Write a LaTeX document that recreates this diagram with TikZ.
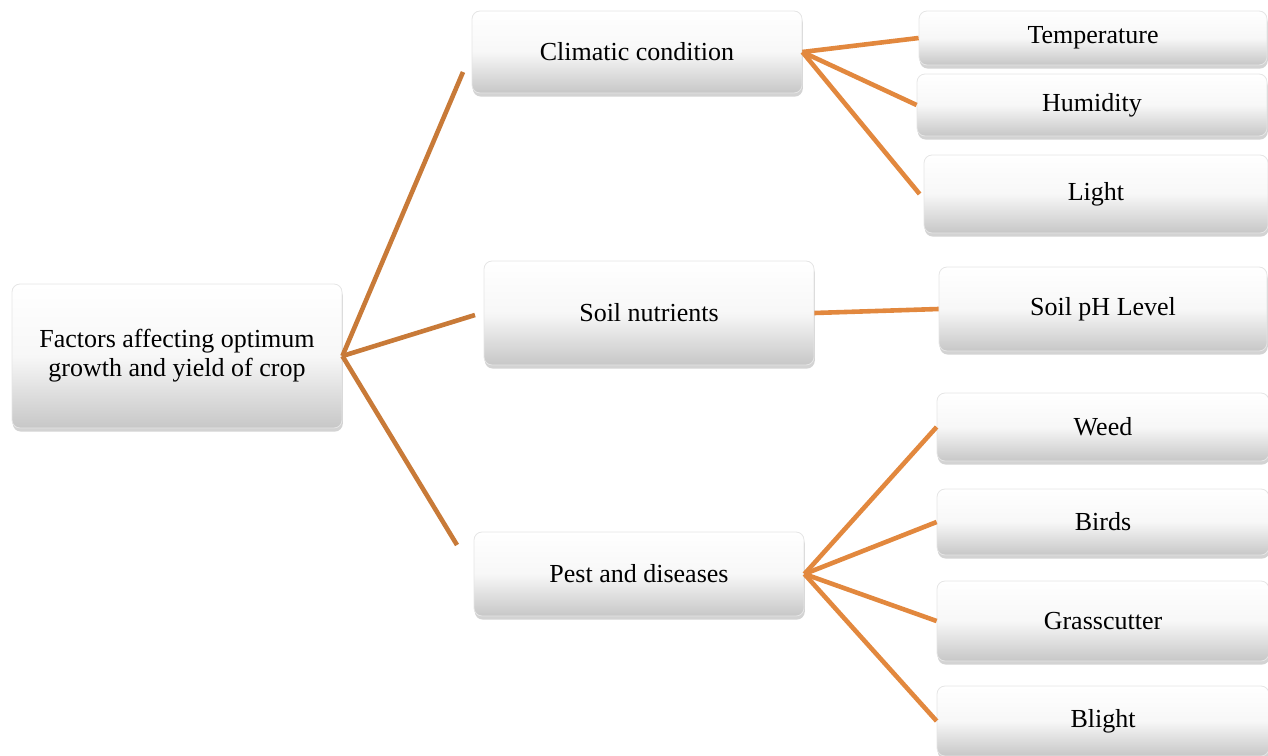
\documentclass[tikz,border=0pt]{standalone}
\usepackage{fontspec}
\setmainfont{Liberation Serif}
\usetikzlibrary{shadows}

\definecolor{rootline}{RGB}{200,122,56}
\definecolor{leafline}{RGB}{226,136,62}

\tikzstyle{every node}=[align=center, inner sep=2pt, font={\fontsize{13}{14.5}\selectfont}]
\tikzstyle{factor}=[draw=black!10, rounded corners=4pt, top color=white, bottom color=black!22, middle color=black!3,
  drop shadow={shadow xshift=0.4pt, shadow yshift=-1.8pt, opacity=0.35}]
\tikzstyle{rootlink}=[draw=rootline, line width=2.3pt]
\tikzstyle{leaflink}=[draw=leafline, line width=2.3pt]

\begin{document}
\begin{tikzpicture}[x=0.5pt, y=-0.5pt]
    \useasboundingbox (0,0) rectangle (1268,755);

    % main factor
    \node [factor, minimum width=165pt, minimum height=72pt] (crop) at (177,356) {Factors affecting optimum\\growth and yield of crop};

    % groups
    \node [factor, minimum width=165pt, minimum height=41pt] (climate) at (637,52) {Climatic condition};
    \node [factor, minimum width=165pt, minimum height=52pt] (soil) at (649,313) {Soil nutrients};
    \node [factor, minimum width=165pt, minimum height=42pt] (pest) at (639,574) {Pest and diseases};

    % climatic condition
    \node [factor, minimum width=174pt, minimum height=27pt] (temp) at (1093,38) {Temperature};
    \node [factor, minimum width=175pt, minimum height=31pt] (humid) at (1092,105) {Humidity};
    \node [factor, minimum width=172pt, minimum height=39pt] (light) at (1096,194) {Light};

    % soil nutrients
    \node [factor, minimum width=164pt, minimum height=42pt] (ph) at (1103,309) {Soil pH Level};

    % pest and diseases
    \node [factor, minimum width=166pt, minimum height=34pt] (weed) at (1103,427) {Weed};
    \node [factor, minimum width=166pt, minimum height=33pt] (birds) at (1103,522) {Birds};
    \node [factor, minimum width=166pt, minimum height=40pt] (cutter) at (1103,621) {Grasscutter};
    \node [factor, minimum width=166pt, minimum height=35pt] (blight) at (1103,721) {Blight};

    % loose ends of the main links
    \coordinate (toclimate) at (463,72);
    \coordinate (tosoil) at (475,315);
    \coordinate (topest) at (457,545);

    \draw [rootlink] (crop.east) -- (toclimate);
    \draw [rootlink] (crop.east) -- (tosoil);
    \draw [rootlink] (crop.east) -- (topest);

    \draw [leaflink] (climate.east) -- (temp.west);
    \draw [leaflink] (climate.east) -- (humid.west);
    \draw [leaflink] (climate.east) -- ([xshift=-2pt]light.west);

    \draw [leaflink] (soil.east) -- (ph.west);

    \draw [leaflink] (pest.east) -- (weed.west);
    \draw [leaflink] (pest.east) -- (birds.west);
    \draw [leaflink] (pest.east) -- (cutter.west);
    \draw [leaflink] (pest.east) -- (blight.west);
\end{tikzpicture}
\end{document}
